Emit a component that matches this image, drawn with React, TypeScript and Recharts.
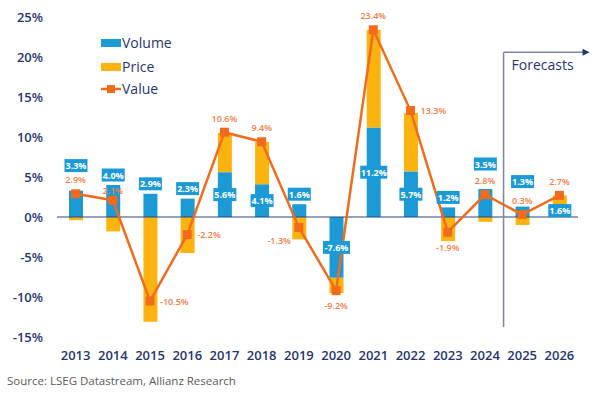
import React from 'react';
import { ComposedChart, Bar, Line, XAxis, YAxis, ReferenceLine, LabelList } from 'recharts';

const years = ['2013', '2014', '2015', '2016', '2017', '2018', '2019', '2020', '2021', '2022', '2023', '2024', '2025', '2026'];
const volume = [3.3, 4.0, 2.9, 2.3, 5.6, 4.1, 1.6, -7.6, 11.2, 5.7, 1.2, 3.5, 1.3, 1.6];
const price = [-0.4, -1.8, -13.1, -4.5, 4.9, 5.3, -2.8, -1.9, 12.2, 7.3, -3.0, -0.6, -1.0, 1.1];
const value = [2.9, 2.1, -10.5, -2.2, 10.6, 9.4, -1.3, -9.2, 23.4, 13.3, -1.9, 2.8, 0.3, 2.7];
const yTicks = [-15, -10, -5, 0, 5, 10, 15, 20, 25];
const forecastStart = '2025';

// label placement (presentation only)
const volPlace = ['high', 'above', 'above', 'above', 'mid', 'mid', 'above', 'mid', 'mid', 'mid', 'above', 'high', 'high', 'mid'];
const valPlace = ['top', 'topnear', 'right', 'right', 'top', 'top', 'left', 'bottom', 'top', 'right', 'bottom', 'top', 'top', 'top'];

const data = years.map((y, i) => ({ year: y, volume: volume[i], price: price[i], value: value[i] }));

const NAVY = '#1f3670';
const BLUE = '#1b9ad6';
const YELLOW = '#fbb40f';
const ORANGE = '#f26b1d';
const ORANGE_TXT = '#f07d45';
const FONT = '"Open Sans", sans-serif';

const fmt = (v: number) => `${v.toFixed(1)}%`;

const VolumeLabel = (props: any) => {
  const { x, y, width, height, index, value: v } = props;
  const top = Math.min(y, y + height);
  const bottom = Math.max(y, y + height);
  const cx = x + width / 2;
  const place = volPlace[index];
  let cy = (top + bottom) / 2;
  if (place === 'above') cy = top - 10;
  if (place === 'high') cy = top - 25;
  const txt = fmt(Number(v));
  const w = txt.length >= 5 ? 27 : 23;
  return (
    <g>
      <rect x={cx - w / 2} y={cy - 6.5} width={w} height={13} fill={BLUE} />
      <text x={cx} y={cy} textAnchor="middle" dominantBaseline="central" fill="#fff" fontSize={9} fontWeight={700} fontFamily={FONT}>
        {txt}
      </text>
    </g>
  );
};

const ValueLabel = (props: any) => {
  const { x, y, index, value: v } = props;
  const place = valPlace[index];
  let tx = x;
  let ty = y - 14;
  let anchor: any = 'middle';
  if (place === 'topnear') { ty = y - 10; }
  if (place === 'right') { tx = x + 10; ty = y; anchor = 'start'; }
  if (place === 'left') { tx = x - 8; ty = y + 13; anchor = 'end'; }
  if (place === 'bottom') { ty = y + 15; }
  return (
    <text x={tx} y={ty} textAnchor={anchor} dominantBaseline="central" fill={ORANGE_TXT} fontSize={9} fontWeight={600} fontFamily={FONT}>
      {fmt(Number(v))}
    </text>
  );
};

const SquareDot = (props: any) => {
  const { cx, cy } = props;
  if (cx == null || cy == null) return null;
  return <rect x={cx - 4.5} y={cy - 4.5} width={9} height={9} fill={ORANGE} />;
};

const ForecastLabel = (props: any) => {
  const vb = props.viewBox || {};
  const x = vb.x;
  const y = vb.y;
  return (
    <g>
      <line x1={x} y1={y} x2={x + 80} y2={y} stroke="#7d86a3" strokeWidth={1.5} />
      <polygon points={`${x + 86},${y} ${x + 79},${y - 3.5} ${x + 79},${y + 3.5}`} fill={NAVY} />
      <text x={x + 8} y={y + 12} dominantBaseline="central" fill={NAVY} fontSize={14} fontWeight={500} fontFamily={FONT}>
        Forecasts
      </text>
    </g>
  );
};

const LegendBox = () => {
  const row = (top: number, icon: React.ReactNode, label: string) => (
    <div style={{ position: 'absolute', left: 101, top: top - 10, height: 20, display: 'flex', alignItems: 'center' }}>
      {icon}
      <span style={{ marginLeft: 1, fontSize: 14, fontWeight: 500, color: NAVY, fontFamily: FONT, lineHeight: '20px' }}>{label}</span>
    </div>
  );
  return (
    <>
      {row(43, <div style={{ width: 20, height: 8, background: BLUE }} />, 'Volume')}
      {row(67, <div style={{ width: 20, height: 8, background: YELLOW }} />, 'Price')}
      {row(89,
        <svg width={20} height={10}>
          <line x1={0} y1={5} x2={20} y2={5} stroke={ORANGE} strokeWidth={2.5} />
          <rect x={6} y={1} width={8} height={8} fill={ORANGE} />
        </svg>, 'Value')}
    </>
  );
};

export default function App() {
  return (
    <div style={{ position: 'absolute', left: 0, top: 0, width: 601, height: 394, background: '#fff', fontFamily: FONT }}>
      <ComposedChart
        width={601}
        height={394}
        data={data}
        stackOffset="sign"
        margin={{ top: 17, right: 23, bottom: 27, left: 0 }}
      >
        <XAxis
          dataKey="year"
          axisLine={false}
          tickLine={false}
          tickMargin={8}
          height={30}
          interval={0}
          tick={{ fill: NAVY, fontSize: 13, fontWeight: 600, fontFamily: FONT }}
        />
        <YAxis
          domain={[-15, 25]}
          ticks={yTicks}
          axisLine={false}
          tickLine={false}
          tickMargin={8}
          width={57}
          tickFormatter={(v: number) => `${v}%`}
          tick={{ fill: NAVY, fontSize: 13, fontWeight: 600, fontFamily: FONT }}
        />
        <ReferenceLine y={0} stroke="#2d4479" strokeWidth={1} />
        <Bar dataKey="volume" stackId="s" fill={BLUE} barSize={14} isAnimationActive={false}>
          <LabelList dataKey="volume" content={VolumeLabel} />
        </Bar>
        <Bar dataKey="price" stackId="s" fill={YELLOW} barSize={14} isAnimationActive={false} />
        <Line
          dataKey="value"
          stroke={ORANGE}
          strokeWidth={2.5}
          dot={<SquareDot />}
          activeDot={false}
          isAnimationActive={false}
        >
          <LabelList dataKey="value" content={ValueLabel} />
        </Line>
        <ReferenceLine
          segment={[{ x: forecastStart, y: 20.6 }, { x: forecastStart, y: -13.75 }]}
          position="start"
          stroke="#7d86a3"
          strokeWidth={1.5}
          ifOverflow="visible"
          label={ForecastLabel}
        />
      </ComposedChart>
      <LegendBox />
      <div style={{ position: 'absolute', left: 7, top: 373, fontSize: 11.5, color: '#5a5a5a', fontFamily: FONT, lineHeight: '16px', whiteSpace: 'nowrap' }}>
        Source: LSEG Datastream, Allianz Research
      </div>
    </div>
  );
}
